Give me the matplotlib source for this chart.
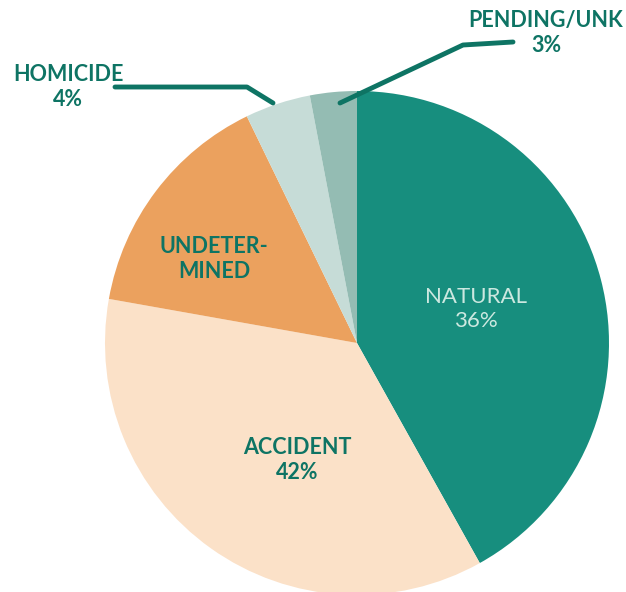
import matplotlib.pyplot as plt

# slice sizes as drawn (degrees, converted to %)
categories = ['NATURAL', 'ACCIDENT', 'UNDETERMINED', 'HOMICIDE', 'PENDING/UNK']
sizes = [41.9, 35.9, 15.0, 4.2, 3.0]
labels = ['NATURAL\n36%', 'ACCIDENT\n42%', 'UNDETER-\nMINED', 'HOMICIDE\n4%', 'PENDING/UNK\n3%']
colors = ['#178e7e', '#fbe1c8', '#eba15e', '#c6dcd7', '#94bcb3']

dark = '#0e7464'
plt.rcParams['font.family'] = ['Lato', 'DejaVu Sans']

fig = plt.figure(figsize=(6.26, 5.92), dpi=100)
ax = fig.add_axes([0, 0, 1, 1])
ax.pie(sizes, colors=colors, startangle=90, counterclock=False,
       center=(357, 249), radius=252, wedgeprops=dict(linewidth=0))
ax.set_xlim(0, 626)
ax.set_ylim(0, 592)
ax.set_aspect('equal')
ax.axis('off')

fs = 15.5
opts = dict(fontsize=fs, ha='center', va='center', linespacing=1.2)
ax.text(476, 283, labels[0], color='#cce8e0', fontsize=16, ha='center', va='center', linespacing=1.2)
ax.text(297, 132, labels[1], color=dark, fontweight='bold', **opts)
ax.text(214, 333, labels[2], color=dark, fontweight='bold', **opts)
ax.text(68, 505, labels[3], color=dark, fontweight='bold', **opts)
ax.text(546, 559, labels[4], color=dark, fontweight='bold', **opts)

# leader lines
ax.plot([115, 247, 273], [505, 505, 489], color=dark, lw=3.5, solid_capstyle='round')
ax.plot([340, 463, 513], [489, 547, 550], color=dark, lw=3.5, solid_capstyle='round')

fig.savefig('out.png', dpi=100)
